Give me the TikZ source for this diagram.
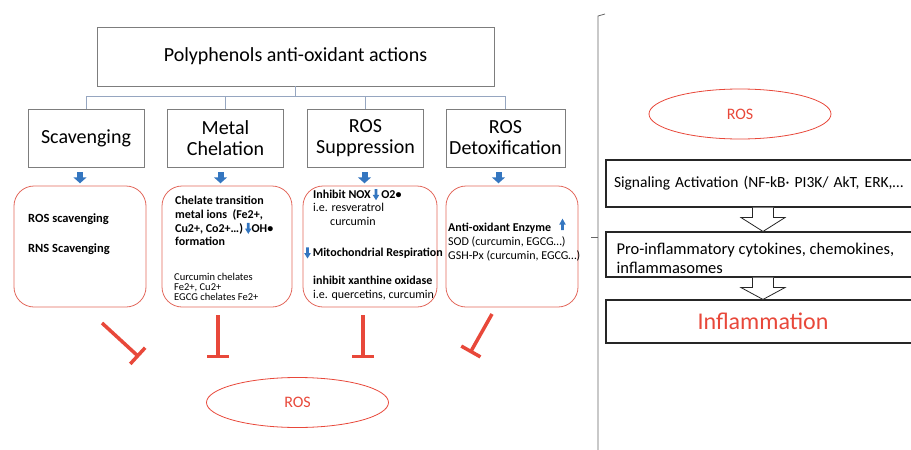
\documentclass[tikz,border=0pt]{standalone}
\usepackage{fontspec}
\setmainfont{Carlito}
\usetikzlibrary{shapes.geometric,arrows.meta,calc}
\definecolor{rosred}{RGB}{232,72,58}
\definecolor{boxred}{RGB}{226,104,92}
\definecolor{arrowblue}{RGB}{52,118,192}
\definecolor{treegray}{RGB}{150,166,192}
\definecolor{framegray}{RGB}{125,125,125}
% small blue arrows inside the text
\newcommand{\dnarrow}{\tikz[x=1pt,y=1pt,baseline=0pt]{\fill[arrowblue] (-1.3,9.2) rectangle (1.3,3.4) (-3.3,3.5) -- (3.3,3.5) -- (0,-1.8) -- cycle;}}
\newcommand{\uparrowblue}{\tikz[x=1pt,y=1pt,baseline=0pt]{\fill[arrowblue] (-1.3,-0.5) rectangle (1.3,5) (-3.3,4.9) -- (3.3,4.9) -- (0,10.8) -- cycle;}}
\tikzset{
  titlebox/.style={draw=framegray, line width=0.6pt, minimum width=397pt, minimum height=59pt, font=\fontsize{20}{22}\selectfont},
  headbox/.style={draw=framegray, line width=0.6pt, minimum width=116pt, minimum height=58pt, align=center, font=\fontsize{20}{21}\selectfont},
  redbox/.style={draw=boxred, line width=0.8pt, rounded corners=20pt, minimum height=121pt},
  bodytext/.style={anchor=north west, inner sep=0pt, align=left},
  treeline/.style={draw=treegray, line width=0.6pt},
  blockarrow/.style={draw=arrowblue, line width=6pt, -{Triangle[width=13pt,length=6pt]}},
  inhibit/.style={draw=rosred, line width=3.5pt, -{Bar[width=22pt,line width=3.5pt]}},
  rosnode/.style={ellipse, draw=rosred, line width=0.8pt, minimum width=182pt, minimum height=50pt, inner sep=0pt, text=rosred, font=\fontsize{16}{18}\selectfont},
  flowbox/.style={draw=black!85, line width=1.1pt, minimum width=314pt, text width=298pt, inner xsep=8pt, align=left},
  hollow/.style={draw=black!85, line width=0.8pt, fill=white}
}
\newcommand{\hollowdn}[2]{%
  \draw[hollow] ($(#1.south)+(-10.5,0)$) -- ($(#1.south)+(-10.5,10)$) -- ($(#1.south)+(-22,10)$)
    -- (#2.north) -- ($(#1.south)+(22,10)$) -- ($(#1.south)+(10.5,10)$) -- ($(#1.south)+(10.5,0)$);}

\begin{document}
\begin{tikzpicture}[x=1pt,y=-1pt]
\useasboundingbox (0,0) rectangle (911,450);

% left part: polyphenol actions
\node[titlebox] (title) at (295.5,56.5) {Polyphenols anti-oxidant actions};
\node[headbox] (scav)  at (86,138)    {Scavenging};
\node[headbox] (metal) at (225.5,138) {Metal\\Chelation};
\node[headbox] (supp)  at (365.5,138) {ROS\\Suppression};
\node[headbox] (detox) at (505.5,138) {ROS\\Detoxification};

\coordinate (hub) at (295.5,96);
\draw[treeline] (title.south) -- (hub);
\foreach \b in {scav,metal,supp,detox}
  \draw[treeline] (hub) -| (\b.north);

\foreach \b/\dx in {scav/-6,metal/-5,supp/-1,detox/-7}
  \draw[blockarrow] ($(\b.south)+(\dx,5)$) -- ($(\b.south)+(\dx,16)$);

\node[redbox, minimum width=132pt] (scavbox)  at (80,246.5)  {};
\node[redbox, minimum width=130pt] (chelbox)  at (227,246.5) {};
\node[redbox, minimum width=134pt] (suppbox)  at (370,246.5) {};
\node[redbox, minimum width=132pt] (detoxbox) at (512,246.5) {};

\node[bodytext, font=\fontsize{12.5}{30}\selectfont\bfseries] (scavtxt) at (28,214)
  {ROS scavenging\\RNS Scavenging};
\node[bodytext, font=\fontsize{12}{13.7}\selectfont\bfseries] (cheltxt) at (175,196)
  {Chelate transition\\metal ions~ (Fe2+,\\Cu2+, Co2+…)\,\dnarrow OH•\\formation};
\node[bodytext, font=\fontsize{10.5}{10}\selectfont] (chelex) at (174,273)
  {Curcumin chelates\\Fe2+, Cu2+\\EGCG chelates Fe2+};
\node[bodytext, font=\fontsize{12}{13.5}\selectfont] (noxtxt) at (313,189)
  {\textbf{Inhibit NOX\,\dnarrow\,O2•}\\i.e. resveratrol\\\hspace*{17pt}curcumin};
\node[anchor=west, inner sep=0pt, font=\fontsize{12}{13}\selectfont\bfseries] (mitotxt) at (304,253)
  {\dnarrow\,Mitochondrial Respiration};
\node[bodytext, font=\fontsize{12}{13.5}\selectfont] (xotxt) at (313,276)
  {\textbf{inhibit xanthine oxidase}\\i.e. quercetins, curcumin};
\node[bodytext, font=\fontsize{12}{14}\selectfont] (enztxt) at (448,218.5)
  {\textbf{Anti-oxidant Enzyme}\hspace{8pt}\raisebox{2pt}{\uparrowblue}\\SOD (curcumin, EGCG…)\\GSH-Px (curcumin, EGCG…)};

% inhibition bars
\coordinate (t1a) at (102,323); \coordinate (t1b) at (139,357);
\coordinate (t2a) at (218,315); \coordinate (t2b) at (218,358);
\coordinate (t3a) at (363,315); \coordinate (t3b) at (363,358);
\coordinate (t4a) at (492,314); \coordinate (t4b) at (470,353);
\foreach \i in {1,...,4}
  \draw[inhibit] (t\i a) -- (t\i b);

\node[rosnode] (roslow) at (297.5,402.5) {ROS};

% right part: inflammation cascade
\draw[draw=black!60, line width=0.8pt] (605,14) -- (598,16) -- (598,450);
\draw[draw=black!60, line width=0.8pt] (591,237) -- (598,237);

\node[rosnode] (roshigh) at (740,114) {ROS};
\node[flowbox, minimum height=47pt, font=\fontsize{15.5}{17}\selectfont] (signal) at (763,183.5)
  {Signaling Activation (NF-kB· PI3K/ AkT, ERK,…};
\node[flowbox, minimum height=45pt] (cyto) at (763,254.5) {};
\node[bodytext, font=\fontsize{16.5}{18.5}\selectfont] (cytotxt) at ($(cyto.north west)+(11,11.5)$)
  {Pro-inflammatory cytokines, chemokines,\\inflammasomes};
\node[flowbox, minimum height=43pt, align=center, text=rosred, font=\fontsize{24}{26}\selectfont] (inflam) at (763,321.5)
  {Inflammation};
\hollowdn{signal}{cyto}
\hollowdn{cyto}{inflam}
\end{tikzpicture}
\end{document}
